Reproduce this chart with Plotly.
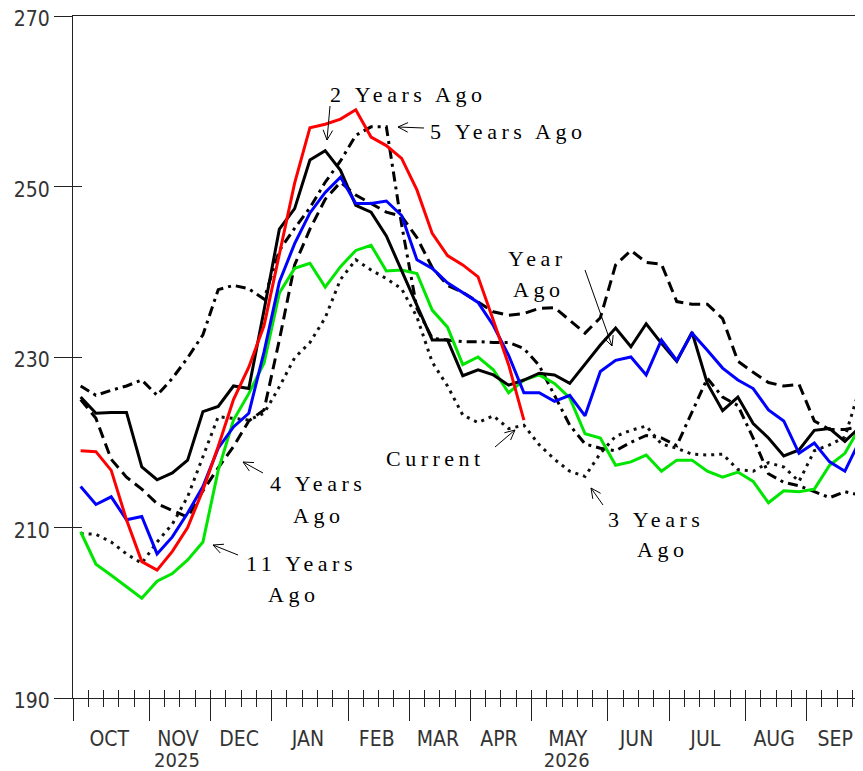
import math
import plotly.graph_objects as go

# ---------------- data ----------------
week_index = list(range(52))
month_names = ["OCT", "NOV", "DEC", "JAN", "FEB", "MAR", "APR", "MAY", "JUN", "JUL", "AUG", "SEP"]
month_weeks = [5, 4, 4, 5, 4, 4, 4, 5, 4, 5, 4, 4]
year_names = {"NOV": "2025", "MAY": "2026"}
y_ticks = [190, 210, 230, 250, 270]

current = [219.0, 218.9, 216.7, 210.9, 206.0, 205.0, 207.2, 210.0, 214.4, 219.5,
           225.0, 228.8, 233.7, 242.0, 250.4, 256.9, 257.3, 257.9, 259.0, 255.8,
           254.8, 253.3, 249.6, 244.5, 241.9, 240.8, 239.4, 234.3, 229.1, 222.6]

year_ago = [214.8, 212.7, 213.6, 210.9, 211.3, 206.9, 208.9, 211.7, 214.8, 219.3,
            221.8, 223.4, 230.6, 238.8, 243.3, 246.9, 249.3, 251.1, 248.0, 248.0,
            248.3, 246.6, 241.4, 240.4, 238.7, 237.6, 236.4, 233.7, 230.2, 225.8,
            225.8, 224.8, 225.5, 223.1, 228.3, 229.6, 230.0, 227.9, 232.0, 229.6,
            232.8, 230.8, 228.7, 227.3, 226.3, 223.8, 222.5, 218.7, 219.9, 217.7,
            216.6, 220.3]

two_years = [225.3, 223.4, 223.5, 223.5, 217.1, 215.6, 216.4, 217.9, 223.6, 224.2,
             226.6, 226.3, 235.5, 245.0, 247.4, 253.1, 254.2, 251.9, 247.8, 247.0,
             244.2, 240.2, 236.1, 232.0, 232.0, 227.8, 228.5, 227.9, 226.7, 227.3,
             228.1, 227.9, 226.9, 229.1, 231.4, 233.4, 231.2, 233.9, 231.6, 229.5,
             232.9, 226.9, 223.7, 225.3, 222.2, 220.5, 218.4, 219.1, 221.4, 221.6,
             220.1, 221.8]

three_years = [209.3, 209.2, 208.3, 206.9, 205.8, 208.3, 210.4, 213.6, 218.3, 223.0,
               222.8, 222.6, 223.4, 226.5, 229.9, 231.7, 234.6, 239.1, 241.4, 240.2,
               239.2, 238.0, 234.7, 229.4, 226.6, 223.2, 222.3, 223.1, 221.6, 222.0,
               219.7, 218.0, 216.6, 216.0, 218.7, 220.7, 221.4, 221.9, 219.8, 219.3,
               218.6, 218.5, 218.6, 216.8, 216.6, 217.6, 217.1, 215.4, 219.0, 219.7,
               220.6, 226.5]

four_years = [225.0, 222.8, 218.0, 215.9, 214.5, 212.8, 212.0, 211.2, 214.3, 217.0,
              219.5, 222.5, 223.8, 232.0, 240.8, 245.0, 248.5, 250.5, 249.0, 248.0,
              247.0, 246.5, 244.0, 240.5, 238.4, 237.6, 236.5, 235.3, 234.9, 235.1,
              235.7, 235.8, 234.3, 232.8, 234.6, 240.8, 242.5, 241.1, 240.9, 236.5,
              236.2, 236.2, 234.5, 229.5, 228.2, 227.0, 226.6, 226.8, 222.5, 221.5,
              221.5, 221.8]

five_years = [226.6, 225.5, 226.1, 226.6, 227.3, 225.5, 227.5, 229.9, 232.6, 237.9,
              238.4, 238.0, 236.8, 242.5, 245.1, 247.5, 250.5, 253.0, 256.0, 257.0,
              257.0, 245.5, 235.7, 232.2, 232.0, 231.8, 231.8, 231.7, 231.7, 231.0,
              229.0, 225.5, 222.0, 219.8, 219.3, 219.0, 220.0, 220.8, 220.5, 219.6,
              223.5, 227.5, 225.3, 224.3, 220.5, 216.3, 215.3, 214.9, 214.2, 213.5,
              214.2, 213.8]

eleven_years = [209.5, 205.7, 204.4, 203.1, 201.7, 203.7, 204.6, 206.2, 208.3, 216.7,
                222.6, 225.7, 229.3, 237.5, 240.4, 241.0, 238.2, 240.6, 242.5, 243.1,
                240.1, 240.2, 239.8, 235.5, 233.5, 229.1, 230.0, 228.5, 225.8, 227.3,
                227.9, 226.9, 225.2, 221.0, 220.5, 217.3, 217.7, 218.5, 216.6, 217.9,
                217.9, 216.6, 215.9, 216.5, 215.4, 212.9, 214.3, 214.2, 214.5, 217.3,
                218.7, 221.8]

# ---------------- layout geometry ----------------
OFF = 8                      # browser body margin
W, H = 863 - OFF, 771 - OFF  # figure size
L, R, T, B = 73, 863, 16, 698  # plot area in window pixels
X_MAX = 51.685

x_pos = [w + 0.5 for w in week_index]
bounds = [0]
for n in month_weeks:
    bounds.append(bounds[-1] + n)
mids = [(bounds[i] + bounds[i + 1]) / 2 for i in range(len(month_names))]

def px(x):
    return (x - L) / (R - L)

def py(y):
    return (B - y) / (B - T)

fig = go.Figure()

series = [
    ("5 Years Ago", five_years, dict(color="#000000", width=3, dash="10px,5px,3px,5px")),
    ("4 Years Ago", four_years, dict(color="#000000", width=3, dash="11px,6px")),
    ("3 Years Ago", three_years, dict(color="#111111", width=3, dash="3px,5px")),
    ("11 Years Ago", eleven_years, dict(color="#00e600", width=3)),
    ("2 Years Ago", two_years, dict(color="#000000", width=3)),
    ("Year Ago", year_ago, dict(color="#0000ff", width=3)),
    ("Current", current, dict(color="#ff0000", width=3)),
]
for name, vals, line in series:
    fig.add_trace(go.Scatter(x=x_pos[:len(vals)], y=vals, mode="lines", name=name,
                             line=line, showlegend=False, hoverinfo="skip"))

# dummy traces so overlay axes render
for xa, ya in [("x2", "y"), ("x3", "y"), ("x4", "y"), ("x", "y2")]:
    fig.add_trace(go.Scatter(x=[None], y=[None], xaxis=xa, yaxis=ya, showlegend=False,
                             hoverinfo="skip", mode="lines"))

font_family = "Liberation Sans Narrow, DejaVu Sans Condensed, Liberation Sans, sans-serif"
tick_font = dict(family=font_family, size=21, color="#333333")
year_font = dict(family=font_family, size=20, color="#333333")
axis_col = "#222222"

fig.update_layout(
    width=W, height=H,
    margin=dict(l=L - OFF, r=0, t=T - OFF, b=H - (B - OFF), pad=0),
    paper_bgcolor="white", plot_bgcolor="white",
    xaxis=dict(range=[0, X_MAX], tickvals=bounds[:-1], ticks="outside", ticklen=22,
               tickcolor=axis_col, tickwidth=1, showticklabels=False, showgrid=False,
               zeroline=False, showline=True, linecolor=axis_col, linewidth=1, mirror=True,
               minor=dict(tick0=0, dtick=1, ticks="outside", ticklen=8, tickcolor=axis_col,
                          tickwidth=1, showgrid=False),
               automargin=False),
    xaxis2=dict(range=[0, X_MAX], overlaying="x", anchor="y", side="bottom",
                tickvals=week_index, ticks="inside", ticklen=8, tickcolor=axis_col,
                tickwidth=1, showticklabels=False, showgrid=False, zeroline=False,
                showline=False, automargin=False),
    xaxis3=dict(range=[0, X_MAX], overlaying="x", anchor="y", side="bottom",
                tickvals=mids, ticktext=month_names, ticks="", showgrid=False,
                zeroline=False, showline=False, tickfont=tick_font,
                ticklabelstandoff=26, ticklabelshift=-2, automargin=False),
    xaxis4=dict(range=[0, X_MAX], overlaying="x", anchor="y", side="bottom",
                tickvals=[mids[month_names.index(m)] for m in year_names],
                ticktext=list(year_names.values()), ticks="", showgrid=False,
                zeroline=False, showline=False, tickfont=year_font,
                ticklabelstandoff=48, ticklabelshift=-3, ticklabeloverflow="allow",
                automargin=False),
    yaxis=dict(range=[190, 270], tickvals=y_ticks, ticks="outside", ticklen=18,
               tickcolor=axis_col, tickwidth=1, showgrid=False, zeroline=False,
               showline=True, linecolor=axis_col, linewidth=1, tickfont=tick_font,
               ticklabelshift=3, ticklabeloverflow="allow", automargin=False),
    yaxis2=dict(range=[190, 270], overlaying="y", anchor="x", side="left",
                tickvals=y_ticks, ticks="inside", ticklen=9, tickcolor=axis_col,
                tickwidth=1, showticklabels=False, showgrid=False, zeroline=False,
                showline=False, automargin=False),
)

# ---------------- text labels and arrows ----------------
label_font = dict(family="Liberation Serif, DejaVu Serif, serif", size=22, color="#000000")
labels = [
    ("2 Years Ago", 408, 94),
    ("5 Years Ago", 508, 132),
    ("Year", 537, 258), ("Ago", 538, 289),
    ("Current", 435, 458),
    ("3 Years", 656, 519), ("Ago", 662, 549),
    ("4 Years", 318, 483), ("Ago", 318, 515),
    ("11 Years", 301, 563), ("Ago", 293, 594),
]
for txt, cx, cy in labels:
    fig.add_annotation(text='<span style="letter-spacing:4.5px">' + txt + '</span>',
                       x=px(cx), y=py(cy), xref="paper", yref="paper",
                       showarrow=False, font=label_font, xanchor="center", yanchor="middle")

arrows = [
    ((330, 106), (327, 140)),
    ((424, 128), (398, 127)),
    ((585, 270), (612, 346)),
    ((495, 447), (515, 430)),
    ((603, 505), (591, 488)),
    ((263, 473), (243, 462)),
    ((238, 555), (213, 545)),
]
for (tx, ty), (hx, hy) in arrows:
    fig.add_shape(type="line", xref="paper", yref="paper",
                  x0=px(tx), y0=py(ty), x1=px(hx), y1=py(hy),
                  line=dict(color="#000000", width=1))
    dx, dy = tx - hx, ty - hy
    d = math.hypot(dx, dy)
    ux, uy = dx / d, dy / d
    for ang in (0.45, -0.45):
        ca, sa = math.cos(ang), math.sin(ang)
        ex = hx + 11 * (ux * ca - uy * sa)
        ey = hy + 11 * (ux * sa + uy * ca)
        fig.add_shape(type="line", xref="paper", yref="paper",
                      x0=px(hx), y0=py(hy), x1=px(ex), y1=py(ey),
                      line=dict(color="#000000", width=1))

fig.write_html("out.html")
